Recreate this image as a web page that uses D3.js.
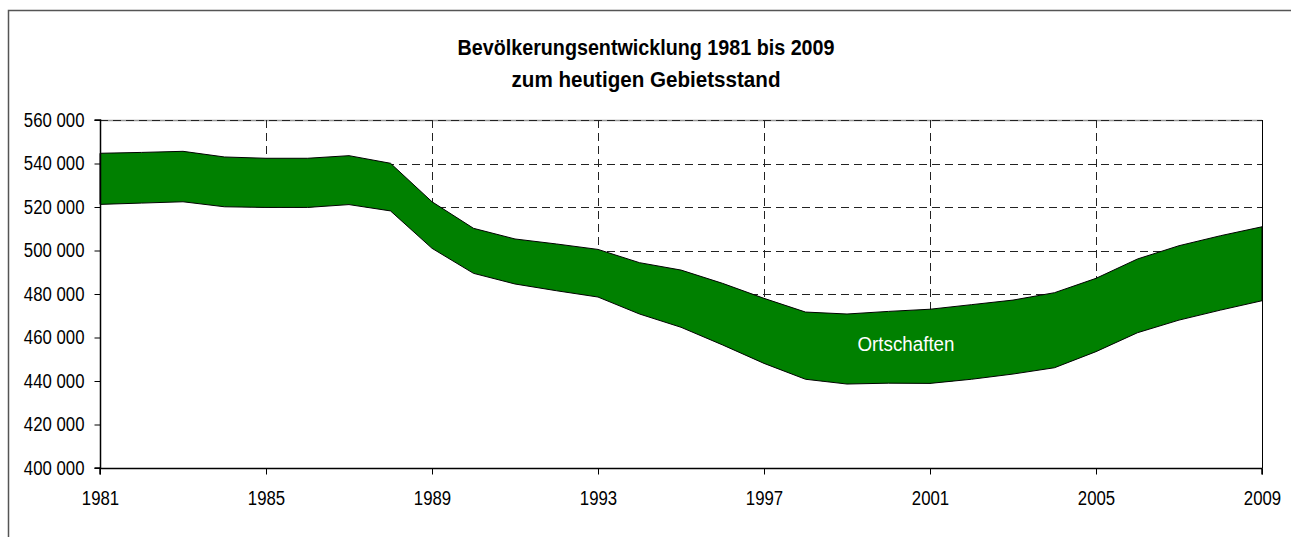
<!DOCTYPE html>
<html>
<head>
<meta charset="utf-8">
<script src="https://cdn.jsdelivr.net/npm/d3@7"></script>
<style>
	body { margin: 0; background: #fff; }
	svg { display: block; }
	text { font-family: "Liberation Sans Narrow", "Arial Narrow", "Liberation Sans", Arial, sans-serif; }
</style>
</head>
<body>
<svg width="1293" height="537"></svg>
<script>
"use strict";

var years = d3.range(1981, 2010);
// untere Kante des gruenen Bandes
var lower = [521200, 521800, 522400, 520100, 519800, 519800, 521100, 518200, 501000, 489500,
	484600, 481500, 478600, 470800, 464700, 456600, 448100, 440800, 438600, 439000,
	438900, 440800, 443200, 446100, 453500, 462200, 468000, 472600, 476900];
// obere Kante
var upper = [544700, 545100, 545600, 543000, 542400, 542400, 543600, 540100, 522400, 510200,
	505300, 503000, 500500, 494400, 491000, 484900, 478000, 471700, 470800, 472000,
	473000, 475100, 477200, 480600, 487200, 496100, 502200, 506800, 510900];
var yTicks = d3.range(400000, 560001, 20000);
var xTicks = [1981, 1985, 1989, 1993, 1997, 2001, 2005, 2009];
var title = ["Bevölkerungsentwicklung 1981 bis 2009", "zum heutigen Gebietsstand"];
var label = "Ortschaften";

var svg = d3.select('svg');
var pLeft = 100, pRight = 1262, pTop = 120, pBottom = 468;

var x = d3.scaleLinear().domain([1981, 2009]).range([pLeft, pRight]);
var y = d3.scaleLinear().domain([400000, 560000]).range([pBottom, pTop]);

var data = years.map(function(yr, i) { return {year: yr, lo: lower[i], hi: upper[i]}; });

// schmale Schrift nachbilden
function narrow(sel, f) {
	sel.each(function() {
		var w = this.getComputedTextLength();
		d3.select(this).attr('textLength', w * f).attr('lengthAdjust', 'spacingAndGlyphs');
	});
}

// Rahmen
svg.append('path')
	.attr('d', 'M8.5,537 V10.5 H1291')
	.attr('fill', 'none')
	.attr('stroke', '#555')
	.attr('stroke-width', 1.5);

// Plotbereich oben grau
svg.append('line')
	.attr('x1', pLeft).attr('x2', pRight)
	.attr('y1', pTop + 0.5).attr('y2', pTop + 0.5)
	.attr('stroke', '#999').attr('stroke-width', 1.5);

// Gitter
svg.append('g').selectAll('line').data(yTicks.slice(1))
	.enter().append('line')
	.attr('x1', pLeft).attr('x2', pRight)
	.attr('y1', function(d) { return Math.round(y(d)) + 0.5; })
	.attr('y2', function(d) { return Math.round(y(d)) + 0.5; })
	.attr('stroke', '#222').attr('stroke-dasharray', '8,5');

svg.append('g').selectAll('line').data(xTicks.slice(1, -1))
	.enter().append('line')
	.attr('y1', pTop).attr('y2', pBottom)
	.attr('x1', function(d) { return Math.round(x(d)) + 0.5; })
	.attr('x2', function(d) { return Math.round(x(d)) + 0.5; })
	.attr('stroke', '#222').attr('stroke-dasharray', '8,5');

// weisse Flaeche unter dem Band deckt das Gitter ab
svg.append('path')
	.datum(data)
	.attr('fill', '#fff')
	.attr('d', d3.area()
		.x(function(d) { return x(d.year); })
		.y0(pBottom)
		.y1(function(d) { return y(d.lo); }));

svg.append('path')
	.datum(data)
	.attr('fill', '#008000')
	.attr('stroke', '#000')
	.attr('stroke-width', 1)
	.attr('d', d3.area()
		.x(function(d) { return x(d.year); })
		.y0(function(d) { return y(d.lo); })
		.y1(function(d) { return y(d.hi); }));

// rechter Rand
svg.append('line')
	.attr('x1', pRight + 0.5).attr('x2', pRight + 0.5)
	.attr('y1', pTop).attr('y2', pBottom)
	.attr('stroke', '#000');

// Achsen
var fmt = function(d) { return d3.format(',')(d).replace(',', ' '); };

var yAxis = svg.append('g')
	.attr('transform', 'translate(' + (pLeft + 0.5) + ',0)')
	.call(d3.axisLeft(y).tickValues(yTicks).tickFormat(fmt).tickSize(6).tickPadding(10));
var xAxis = svg.append('g')
	.attr('transform', 'translate(0,' + (pBottom + 0.5) + ')')
	.call(d3.axisBottom(x).tickValues(xTicks).tickFormat(d3.format('d')).tickSize(6).tickPadding(17));

[yAxis, xAxis].forEach(function(a) {
	a.select('.domain').attr('stroke', '#000').attr('stroke-width', 1.5);
	a.selectAll('.tick line').attr('stroke', '#000');
	a.selectAll('text')
		.attr('font-family', '"Liberation Sans", Arial, sans-serif')
		.attr('font-size', 19.5)
		.attr('fill', '#000')
		.call(narrow, 0.86);
});
yAxis.select('.domain').attr('d', 'M-6,' + pTop + 'H0V' + pBottom + 'H-6');
xAxis.select('.domain').attr('d', 'M' + pLeft + ',6V0H' + pRight + 'V6');

// Titel
svg.append('g').selectAll('text').data(title)
	.enter().append('text')
	.attr('x', 646)
	.attr('y', function(d, i) { return 55 + i * 31.5; })
	.attr('text-anchor', 'middle')
	.attr('font-size', 22)
	.attr('font-weight', 'bold')
	.attr('fill', '#000')
	.text(function(d) { return d; })
	.attr('textLength', function(d, i) { return [377, 269][i]; })
	.attr('lengthAdjust', 'spacingAndGlyphs');

// Beschriftung
svg.append('text')
	.attr('x', 906)
	.attr('y', 351)
	.attr('text-anchor', 'middle')
	.attr('font-size', 20)
	.attr('fill', '#fff')
	.text(label)
	.attr('textLength', 97)
	.attr('lengthAdjust', 'spacingAndGlyphs');
</script>
</body>
</html>
